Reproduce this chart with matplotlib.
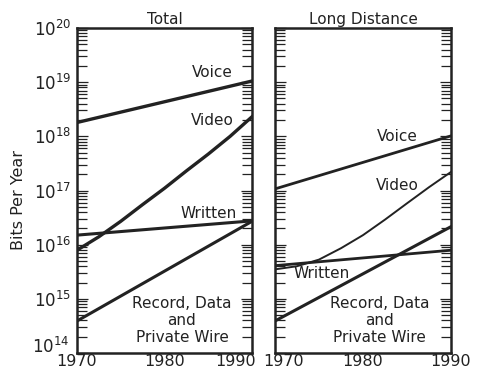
import matplotlib
matplotlib.use('Agg')
import matplotlib.pyplot as plt
import matplotlib.transforms as mtransforms
from matplotlib.ticker import LogLocator, NullFormatter, FixedLocator, FixedFormatter

# ---- data ----
years_ends = [1970, 1990]
years_curve = [1970, 1972.5, 1975, 1977.5, 1980, 1982.5, 1985, 1987.5, 1990]

total_voice = [1.8e18, 1.05e19]
total_video = [7.9e15, 1.4e16, 2.7e16, 5.5e16, 1.1e17, 2.3e17, 4.7e17, 1.0e18, 2.3e18]
total_written = [1.5e16, 2.75e16]
total_record = [3.9e14, 2.7e16]

ld_voice = [1.07e17, 1.02e18]
ld_video = [3.5e15, 4.0e15, 5.3e15, 8.6e15, 1.5e16, 2.9e16, 5.8e16, 1.15e17, 2.2e17]
ld_written = [4.1e15, 7.9e15]
ld_record = [3.9e14, 2.15e16]

panel_titles = ["Total", "Long Distance"]
xtick_vals = [1970, 1980, 1990]
xtick_labels = ["1970", "1980", "1990"]
ytick_vals = [1e14, 1e15, 1e16, 1e17, 1e18, 1e19, 1e20]
ytick_labels = [r"$10^{14}$", r"$10^{15}$", r"$10^{16}$", r"$10^{17}$",
                r"$10^{18}$", r"$10^{19}$", r"$10^{20}$"]

ink = "#222222"
plt.rcParams['font.family'] = ['DejaVu Sans']
plt.rcParams['mathtext.fontset'] = 'dejavusans'

fig = plt.figure(figsize=(4.79, 3.72), dpi=100)
fig.patch.set_facecolor('white')
W, H = 479, 372
def axrect(x0, x1, y0, y1):
    return [x0 / W, 1 - y1 / H, (x1 - x0) / W, (y1 - y0) / H]

ax1 = fig.add_axes(axrect(77, 252, 28, 353))
ax2 = fig.add_axes(axrect(275, 451, 28, 353))

for ax, title in zip([ax1, ax2], panel_titles):
    ax.set_yscale('log')
    ax.set_xlim(1970, 1990)
    ax.set_ylim(1e14, 1e20)
    ax.yaxis.set_major_locator(FixedLocator(ytick_vals))
    ax.yaxis.set_minor_locator(LogLocator(base=10, subs=range(2, 10), numticks=20))
    ax.yaxis.set_minor_formatter(NullFormatter())
    ax.tick_params(axis='y', which='both', direction='in', left=True, right=True,
                   color=ink, width=0.9)
    ax.tick_params(axis='y', which='major', length=8)
    ax.tick_params(axis='y', which='minor', length=7)
    ax.set_xticks(xtick_vals)
    ax.set_xticklabels(xtick_labels)
    ax.tick_params(axis='x', which='both', length=0, labelsize=11.5, pad=1,
                   labelcolor=ink)
    for s in ax.spines.values():
        s.set_linewidth(1.8)
        s.set_color(ink)
    ax.set_title(title, fontsize=11, color=ink, pad=3)

ax1.yaxis.set_major_formatter(FixedFormatter(ytick_labels))
ax1.tick_params(axis='y', which='major', labelsize=12, pad=4, labelcolor=ink)
ax2.tick_params(axis='y', which='both', labelleft=False)
ax1.set_ylabel("Bits Per Year", fontsize=11.5, color=ink, labelpad=0)
ax1.yaxis.set_label_coords(-0.29, 0.47)

# shift crowded labels
def shift(t, dx, dy):
    t.set_transform(t.get_transform() +
                    mtransforms.ScaledTranslation(dx / 100, dy / 100, fig.dpi_scale_trans))

lbl = ax1.get_xticklabels()
shift(lbl[2], -16, 0)
lbl2 = ax2.get_xticklabels()
shift(lbl2[0], 9, 0)
shift(ax1.get_yticklabels()[0], -2, 8)

# ---- lines ----
ax1.plot(years_ends, total_voice, color=ink, lw=2.4)
ax1.plot(years_curve, total_video, color=ink, lw=2.4)
ax1.plot(years_ends, total_written, color=ink, lw=2.2)
ax1.plot(years_ends, total_record, color=ink, lw=2.2)

ax2.plot(years_ends, ld_voice, color=ink, lw=2.0)
ax2.plot(years_curve, ld_video, color=ink, lw=1.4)
ax2.plot(years_ends, ld_written, color=ink, lw=2.0)
ax2.plot(years_ends, ld_record, color=ink, lw=2.2)

fs = 11
ax1.text(1985.5, 10**19.17, "Voice", fontsize=fs, color=ink, ha='center', va='center')
ax1.text(1985.5, 10**18.30, "Video", fontsize=fs, color=ink, ha='center', va='center')
ax1.text(1985.0, 10**16.57, "Written", fontsize=fs, color=ink, ha='center', va='center')
ax1.text(1982.0, 10**14.60, "Record, Data\nand\nPrivate Wire", fontsize=fs, color=ink,
         ha='center', va='center', linespacing=1.15)

ax2.text(1983.9, 10**17.99, "Voice", fontsize=fs, color=ink, ha='center', va='center')
ax2.text(1983.9, 10**17.10, "Video", fontsize=fs, color=ink, ha='center', va='center')
ax2.text(1975.3, 10**15.46, "Written", fontsize=fs, color=ink, ha='center', va='center')
ax2.text(1981.9, 10**14.60, "Record, Data\nand\nPrivate Wire", fontsize=fs, color=ink,
         ha='center', va='center', linespacing=1.15)

fig.savefig("out.png", dpi=100, facecolor='white')
